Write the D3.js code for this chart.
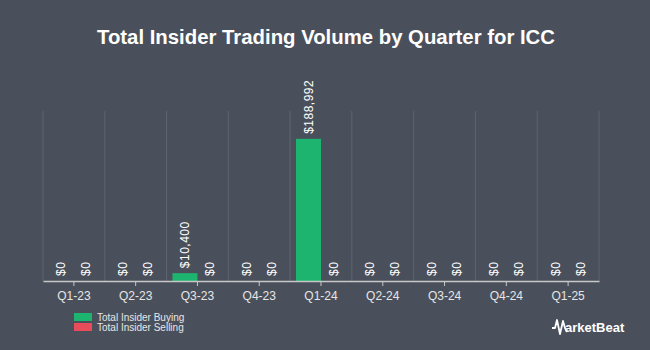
<!DOCTYPE html>
<html>
<head>
<meta charset="utf-8">
<script src="https://cdn.jsdelivr.net/npm/d3@7"></script>
<style>
  body { margin: 0; background: #4a505b; }
  svg { display: block; font-family: "Liberation Sans", Arial, sans-serif; }
</style>
</head>
<body>
<div id="chart"></div>
<script>
// chart data
const quarters = ["Q1-23", "Q2-23", "Q3-23", "Q4-23", "Q1-24", "Q2-24", "Q3-24", "Q4-24", "Q1-25"];
const buying = [0, 0, 10400, 0, 188992, 0, 0, 0, 0];
const selling = [0, 0, 0, 0, 0, 0, 0, 0, 0];
const seriesNames = ["Total Insider Buying", "Total Insider Selling"];
const colors = ["#1db46f", "#e84c5b"];

const width = 650;
const height = 350;
const margin = { top: 111, right: 51, bottom: 69, left: 43 };

const svg = d3.select("#chart")
  .append("svg")
  .attr("width", width)
  .attr("height", height);

svg.append("rect")
  .attr("width", width)
  .attr("height", height)
  .attr("fill", "#4a505b");

// title
svg.append("text")
  .attr("x", 326)
  .attr("y", 44)
  .attr("text-anchor", "middle")
  .attr("fill", "#ffffff")
  .attr("font-size", 20)
  .attr("font-weight", "bold")
  .attr("textLength", 458)
  .attr("lengthAdjust", "spacingAndGlyphs")
  .text("Total Insider Trading Volume by Quarter for ICC");

const x = d3.scaleBand()
  .domain(quarters)
  .range([margin.left, width - margin.right])
  .padding(0);

const y = d3.scaleLinear()
  .domain([0, 226000])
  .range([height - margin.bottom, margin.top]);

// vertical grid lines at band edges
const edges = quarters.map(q => x(q)).concat([x(quarters[quarters.length - 1]) + x.bandwidth()]);
svg.append("g")
  .selectAll("line")
  .data(edges)
  .join("line")
  .attr("x1", d => d)
  .attr("x2", d => d)
  .attr("y1", margin.top)
  .attr("y2", height - margin.bottom)
  .attr("stroke", "#5d6470")
  .attr("stroke-width", 1);

const barW = 25;
const rows = quarters.map((q, i) => ({ q, buy: buying[i], sell: selling[i] }));

// bars
const groups = svg.append("g")
  .selectAll("g")
  .data(rows)
  .join("g")
  .attr("transform", d => `translate(${x(d.q) + x.bandwidth() / 2},0)`);

groups.append("rect")
  .attr("x", -barW)
  .attr("width", barW)
  .attr("y", d => y(d.buy))
  .attr("height", d => y(0) - y(d.buy))
  .attr("fill", colors[0]);

groups.append("rect")
  .attr("x", 0)
  .attr("width", barW)
  .attr("y", d => y(d.sell))
  .attr("height", d => y(0) - y(d.sell))
  .attr("fill", colors[1]);

const fmt = v => "$" + d3.format(",")(v);

// value labels, rotated
groups.append("text")
  .attr("transform", d => `translate(${-barW / 2 + 4},${y(d.buy) - 5}) rotate(-90)`)
  .attr("fill", "#ffffff")
  .attr("font-size", 12)
  .attr("letter-spacing", 0.5)
  .text(d => fmt(d.buy));

groups.append("text")
  .attr("transform", d => `translate(${barW / 2 + 4},${y(d.sell) - 5}) rotate(-90)`)
  .attr("fill", "#ffffff")
  .attr("font-size", 12)
  .attr("letter-spacing", 0.5)
  .text(d => fmt(d.sell));

// x axis
const xAxis = svg.append("g")
  .attr("transform", `translate(0,${height - margin.bottom})`)
  .call(d3.axisBottom(x).tickSize(5).tickSizeOuter(0));
xAxis.select(".domain").attr("stroke", "#c8c8c8").attr("stroke-width", 1.5);
xAxis.selectAll(".tick line").attr("stroke", "#c8c8c8");
xAxis.selectAll(".tick text")
  .attr("fill", "#e6e6e6")
  .attr("font-size", 12)
  .attr("dy", "0.9em")
  .attr("font-family", "Liberation Sans, Arial, sans-serif");

// legend
const legend = svg.append("g")
  .selectAll("g")
  .data(seriesNames)
  .join("g")
  .attr("transform", (d, i) => `translate(74,${313 + i * 10})`);
legend.append("rect")
  .attr("width", 18)
  .attr("height", 8)
  .attr("fill", (d, i) => colors[i]);
legend.append("text")
  .attr("x", 23)
  .attr("y", 8)
  .attr("fill", "#e6e6e6")
  .attr("font-size", 10)
  .text(d => d);

// MarketBeat logo
const logo = svg.append("g").attr("transform", "translate(552,332)");
logo.append("path")
  .attr("d", "M0,-4 L3,-4 L5,-12 L8,2 L11,-11 L13,-4 L15,0")
  .attr("fill", "none")
  .attr("stroke", "#ffffff")
  .attr("stroke-width", 1.8)
  .attr("stroke-linejoin", "round");
logo.append("text")
  .attr("x", 13)
  .attr("y", 0)
  .attr("fill", "#ffffff")
  .attr("font-size", 13)
  .attr("font-weight", "bold")
  .text("arketBeat");
</script>
</body>
</html>
